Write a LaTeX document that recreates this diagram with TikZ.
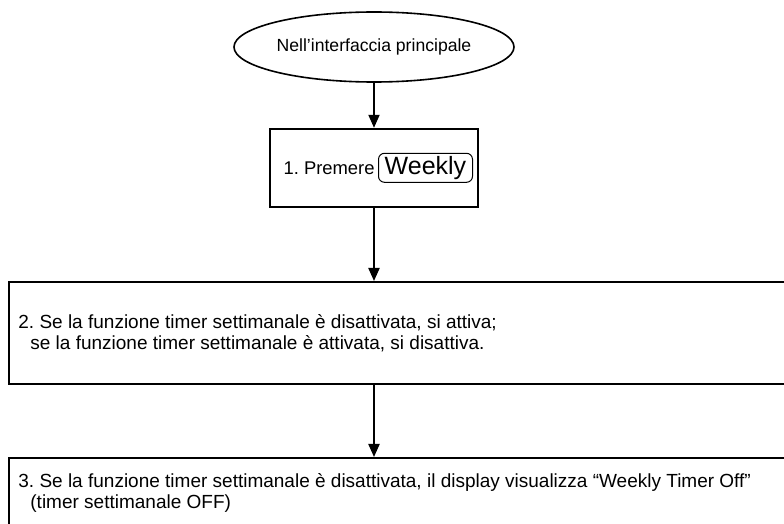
\documentclass[tikz,border=0pt]{standalone}
\usepackage{fontspec}
\setmainfont{Liberation Sans}
\usepackage{tikz}
\usetikzlibrary{positioning,shapes.geometric,arrows.meta}
\frenchspacing
\tikzset{node distance=22.5pt, auto,
  startnode/.style={draw, line width=0.8pt, ellipse, minimum width=140pt, minimum height=35pt, inner sep=0pt, font=\fontsize{8.8}{10.5}\selectfont},
  stepbox/.style={draw, line width=1pt, minimum width=104pt, minimum height=39pt, inner sep=0pt},
  widebox/.style={draw, line width=1pt, anchor=north west, minimum width=396pt, minimum height=51pt, inner sep=0pt},
  keybox/.style={draw, line width=0.5pt, rounded corners=3pt, minimum width=47pt, minimum height=14.5pt, inner sep=1pt, font=\fontsize{12.5}{13}\selectfont},
  steptext/.style={inner sep=0pt, align=left, font=\fontsize{9.5}{10.5}\selectfont},
  flow/.style={line width=1pt, -{Triangle[length=6.5pt,width=5.5pt]}}
}

\begin{document}
\begin{tikzpicture}[x=0.5pt, y=-0.5pt]
\useasboundingbox (0,0) rectangle (784,524);
\node[startnode] (start) at (374,47) {Nell’interfaccia principale};
\node[stepbox, below=of start] (step1) {};
\node[keybox, anchor=east] (weekly) at ([xshift=-3pt]step1.east) {Weekly};
\node[steptext, anchor=east, font=\fontsize{9.2}{10.5}\selectfont] (press) at ([xshift=-1.5pt]weekly.west) {1. Premere};
\node[widebox] (step2) at (8,281) {};
\node[steptext, anchor=west] (txt2) at ([xshift=5pt]step2.west)
  {2. Se la funzione timer settimanale è disattivata, si attiva;\\
   \hspace{6pt}se la funzione timer settimanale è attivata, si disattiva.};
\node[widebox] (step3) at (8,457) {};
\node[steptext, anchor=north west] (txt3) at ([xshift=5pt,yshift=-8pt]step3.north west)
  {3. Se la funzione timer settimanale è disattivata, il display visualizza “Weekly Timer Off”\\
   \hspace{6pt}(timer settimanale OFF)};
\draw[flow] (start) -- (step1);
\draw[flow] (step1.south) -- (step1.south |- step2.north);
\draw[flow] (step1.south |- step2.south) -- (step1.south |- step3.north);
\end{tikzpicture}
\end{document}
